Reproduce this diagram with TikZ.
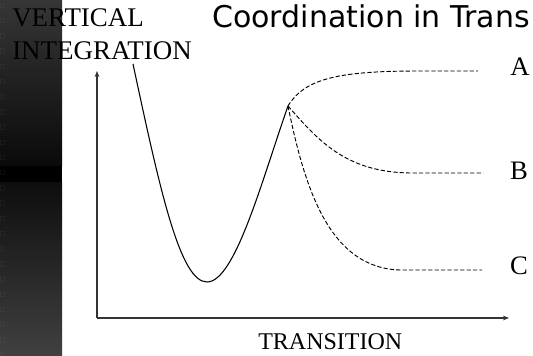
\documentclass[tikz,border=0pt]{standalone}
\usepackage{fontspec}
\setmainfont{Liberation Serif}
\newfontfamily\titlefont{DejaVu Sans}
\usetikzlibrary{arrows.meta}
\tikzset{
  axisline/.style={draw=black!80, line width=0.8pt, -{Stealth[length=4.5pt,width=3.5pt]}},
  solidcurve/.style={draw=black, line width=0.8pt},
  dashcurve/.style={draw=black, line width=0.7pt, dash pattern=on 3.2pt off 1.6pt},
  serifbig/.style={font=\fontsize{20.2pt}{22pt}\selectfont, inner sep=0pt},
  lettertag/.style={font=\fontsize{20pt}{22pt}\selectfont, inner sep=0pt, anchor=center},
}
\begin{document}
\begin{tikzpicture}[x=0.75pt,y=-0.75pt]
\useasboundingbox (0,0) rectangle (533,356);
\fill[white] (0,0) rectangle (533,356);
% left dark strip
\shade[top color={rgb,255:red,54;green,54;blue,54}, bottom color={rgb,255:red,10;green,10;blue,10}] (0,0) rectangle (62,166);
\fill[black] (0,166) rectangle (62,183);
\shade[top color={rgb,255:red,14;green,14;blue,14}, bottom color={rgb,255:red,64;green,64;blue,64}] (0,183) rectangle (62,356);
\foreach \k in {0,...,23} {
  \draw[white, opacity=0.04, line width=0.4pt] (0.5,3+15.2*\k) rectangle (4.5,7.5+15.2*\k);
}
% texts
\node[serifbig, anchor=base west] (vt) at (12,27) {VERTICAL};
\node[serifbig, anchor=base west] (it) at (12,60) {INTEGRATION};
\node[font=\titlefont\fontsize{22.5pt}{24pt}\selectfont, inner sep=0pt, anchor=base west] (title) at (212,28) {Coordination in Trans};
\node[anchor=base west, inner sep=0pt, font=\fontsize{18pt}{20pt}\selectfont] (tr) at (258,350) {TRANSITION};
\node[lettertag] (la) at (520,67) {A};
\node[lettertag] (lb) at (519,171) {B};
\node[lettertag] (lc) at (519,266) {C};
% axes
\coordinate (o) at (97,318);
\coordinate (ytop) at (97,71);
\coordinate (xend) at (509,318);
\draw[axisline] (o) -- (ytop);
\draw[axisline] (o) -- (xend);
% curves
\coordinate (s) at (133,64);
\coordinate (m) at (207,282);
\coordinate (p) at (288,106);
\coordinate (ea) at (478,71);
\coordinate (eb) at (483,173);
\coordinate (ec) at (482,270);
\draw[solidcurve] (s) .. controls (160,190) and (180,282) .. (m)
  .. controls (235,282) and (262,180) .. (p);
\draw[dashcurve] (p) .. controls (305,78) and (340,71) .. (420,71) -- (ea);
\draw[dashcurve] (p) .. controls (318,140) and (345,172) .. (410,173) -- (eb);
\draw[dashcurve] (p) .. controls (305,190) and (330,268) .. (400,270) -- (ec);
\end{tikzpicture}
\end{document}
